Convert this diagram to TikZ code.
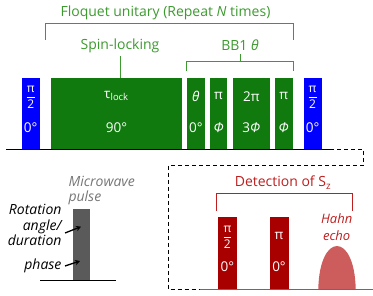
\documentclass[tikz,border=0pt]{standalone}
\usepackage{fontspec}
\setmainfont{Open Sans}
\usepackage{amsmath}
\usepackage{tikz}
\usetikzlibrary{arrows.meta,positioning,calc}
\definecolor{PulseBlue}{HTML}{0000FF}
\definecolor{PulseGreen}{HTML}{117A0F}
\definecolor{LabelGreen}{HTML}{3C9A2E}
\definecolor{PulseRed}{HTML}{A80000}
\definecolor{LabelRed}{HTML}{BE1E1E}
\definecolor{EchoRed}{HTML}{CD5C5C}
\definecolor{PulseGray}{HTML}{5A5A5A}
\definecolor{TextGray}{HTML}{767676}
\newcommand{\halfpi}{{\fontsize{12}{13}\selectfont$\dfrac{\text{π}}{\text{2}}$}}

\begin{document}
\begin{tikzpicture}[x=1pt,y=-1pt,
    pulse/.style={rectangle,inner sep=0pt,anchor=south west,minimum height=70.6pt},
    plab/.style={text=white,inner sep=0pt,font=\fontsize{13.5}{15}\selectfont},
    glab/.style={text=LabelGreen,font=\fontsize{14}{16}\selectfont},
    brk/.style={line width=0.9pt},
    note/.style={font=\fontsize{14}{15.5}\selectfont\itshape},
    arw/.style={line width=1.3pt,-{Stealth[length=5pt,width=5.5pt]}},
]
\useasboundingbox (0,0) rectangle (373,296);
% pulse train
\node[pulse,fill=PulseBlue,minimum width=17.6pt] (hpa) at (21.7,148.8) {};
\node[pulse,fill=PulseGreen,minimum width=131.7pt,right=10.7pt of hpa] (lock) {};
\node[pulse,fill=PulseGreen,minimum width=18.3pt,right=4pt of lock] (bth) {};
\node[pulse,fill=PulseGreen,minimum width=17.7pt,right=4.3pt of bth] (bpa) {};
\node[pulse,fill=PulseGreen,minimum width=37.6pt,right=4.7pt of bpa] (btw) {};
\node[pulse,fill=PulseGreen,minimum width=18.4pt,right=4pt of btw] (bpb) {};
\node[pulse,fill=PulseBlue,minimum width=18pt,right=10.3pt of bpb] (hpb) {};

\node[plab] (hpa-a) at ($(hpa.north)+(0,19.5)$) {\halfpi};
\node[plab] (hpa-p) at ($(hpa.north)+(0,49.7)$) {0°};
\node[plab] (lock-a) at ($(lock.north)+(0,18.5)$) {τ\textsubscript{lock}};
\node[plab] (lock-p) at ($(lock.north)+(0,49.7)$) {90°};
\node[plab] (bth-a) at ($(bth.north)+(0,18.5)$) {\textit{θ}};
\node[plab] (bth-p) at ($(bth.north)+(0,49.7)$) {0°};
\node[plab] (bpa-a) at ($(bpa.north)+(0,18.5)$) {π};
\node[plab] (bpa-p) at ($(bpa.north)+(0,49.7)$) {\textit{Φ}};
\node[plab] (btw-a) at ($(btw.north)+(0,18.5)$) {2π};
\node[plab] (btw-p) at ($(btw.north)+(0,49.7)$) {3\textit{Φ}};
\node[plab] (bpb-a) at ($(bpb.north)+(0,18.5)$) {π};
\node[plab] (bpb-p) at ($(bpb.north)+(0,49.7)$) {\textit{Φ}};
\node[plab] (hpb-a) at ($(hpb.north)+(0,19.5)$) {\halfpi};
\node[plab] (hpb-p) at ($(hpb.north)+(0,49.7)$) {0°};

\draw[line width=0.9pt] (6,149) -- (330,149);

% labels and brackets
\node[glab] (floq) at (165.5,12.7) {Floquet unitary (Repeat \textit{N} times)};
\draw[brk,draw=LabelGreen] (45.7,40) |- (293.3,23.3) -- (293.3,40);
\node[glab] (spin) at (120,45.5) {Spin-locking};
\draw[brk,draw=LabelGreen] (spin.south) -- (spin.south |- lock.north);
\node[glab] (bb) at (240,45.5) {BB1 \textit{θ}};
\coordinate (bbtop) at ($(bth.north west)+(0,-16.6)$);
\draw[brk,draw=LabelGreen] ($(bth.north west)+(0,-6.6)$) |- ($(bpb.north east)+(0,-16.6)$) -- ($(bpb.north east)+(0,-6.6)$);
\draw[brk,draw=LabelGreen] (bb.south) -- (bb.south |- bbtop);

% detection
\draw[line width=0.9pt,dash pattern=on 4pt off 3pt] (330,149) -- (363,149) -- (363,165.7) -- (168,165.7) -- (168,289.5) -- (200,289.5);
\draw[line width=1.5pt,draw=PulseGray!90] (200,289.5) -- (373,289.5);
\node[text=LabelRed,font=\fontsize{14}{16}\selectfont] (det) at (283,182.7) {Detection of S\textsubscript{z}};
\draw[brk,draw=LabelRed] (216,211) |- (352.3,193.3) -- (352.3,211);
\node[pulse,fill=PulseRed,minimum width=19pt,minimum height=71.3pt] (dpa) at (217.7,289) {};
\node[pulse,fill=PulseRed,minimum width=19pt,minimum height=71.3pt] (dpb) at (269.3,289) {};
\node[plab] (dpa-a) at ($(dpa.north)+(0,20)$) {\halfpi};
\node[plab] (dpa-p) at ($(dpa.north)+(0,49.6)$) {0°};
\node[plab] (dpb-a) at ($(dpb.north)+(0,19)$) {π};
\node[plab] (dpb-p) at ($(dpb.north)+(0,49.6)$) {0°};
\fill[EchoRed] (318.3,289) .. controls (319.5,231.7) and (354.5,231.7) .. (355.7,289) -- cycle;
\node[note,text=LabelRed,align=center,font=\fontsize{13}{16.5}\selectfont\itshape] (echo) at (336.7,227.3) {Hahn\\echo};

% legend
\node[pulse,fill=PulseGray,minimum width=17.7pt,minimum height=70.7pt] (mw) at (72.3,280) {};
\draw[line width=0.8pt] (40,280) -- (116,280);
\node[note,text=TextGray,align=left,anchor=west] (mwlab) at (65,190.5) {Microwave\\pulse};
\node[note,align=right,anchor=east] (rot) at (65,225) {Rotation\\angle/\\duration};
\node[note,anchor=east] (phase) at (65,266) {phase};
\coordinate (angtip) at (81,226.7);
\coordinate (phtip) at (80,261);
\draw[arw] ($(rot.east)+(0,8)$) -- (angtip);
\draw[arw] (phase.east) -- (phtip);
\end{tikzpicture}
\end{document}
